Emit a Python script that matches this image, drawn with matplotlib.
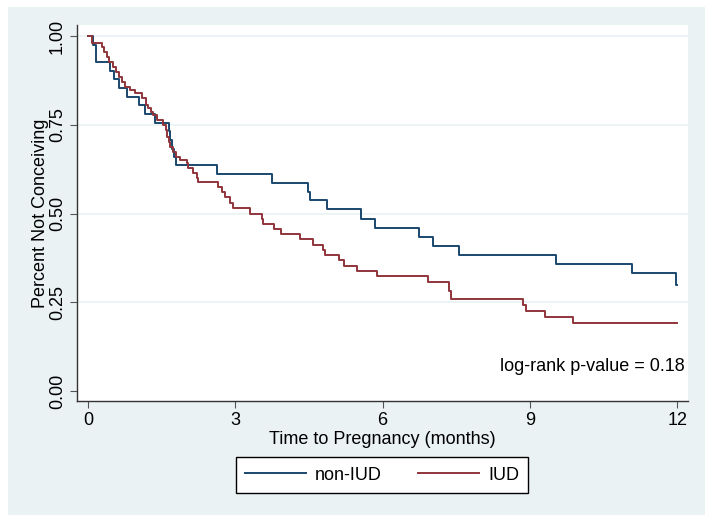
import matplotlib.pyplot as plt
from matplotlib.patches import Rectangle

# Kaplan-Meier step values (time in months, survival after the step)
non_iud_t = [0, 0.10, 0.16, 0.45, 0.53, 0.63, 0.79, 1.04, 1.17, 1.37, 1.65, 1.67, 1.71,
             1.75, 1.79, 2.63, 3.74, 4.49, 4.53, 4.86, 5.56, 5.85, 6.74, 7.02, 7.56,
             9.53, 11.07, 11.97, 12.0]
non_iud_s = [1.0, 0.976, 0.927, 0.902, 0.878, 0.854, 0.829, 0.805, 0.780, 0.756, 0.732,
             0.707, 0.683, 0.659, 0.636, 0.611, 0.587, 0.562, 0.537, 0.512, 0.486, 0.460,
             0.435, 0.409, 0.383, 0.358, 0.332, 0.299, 0.299]

iud_t = [0, 0.09, 0.28, 0.33, 0.38, 0.43, 0.50, 0.57, 0.64, 0.69, 0.75, 0.86, 0.96, 1.11,
         1.18, 1.23, 1.28, 1.33, 1.40, 1.53, 1.59, 1.60, 1.64, 1.68, 1.74, 1.79, 1.87,
         2.01, 2.04, 2.13, 2.21, 2.25, 2.655, 2.72, 2.79, 2.89, 2.95, 3.29, 3.54, 3.57,
         3.79, 3.93, 4.32, 4.59, 4.79, 4.83, 5.11, 5.22, 5.47, 5.88, 6.93, 7.36, 7.39,
         8.86, 8.92, 9.30, 9.87, 12.0]
iud_s = [1.0, 0.981, 0.970, 0.956, 0.942, 0.928, 0.914, 0.900, 0.885, 0.871, 0.857, 0.848,
         0.839, 0.824, 0.806, 0.796, 0.787, 0.777, 0.763, 0.749, 0.735, 0.716, 0.702,
         0.688, 0.674, 0.660, 0.651, 0.641, 0.627, 0.613, 0.599, 0.590, 0.576, 0.561,
         0.546, 0.531, 0.515, 0.500, 0.486, 0.470, 0.456, 0.441, 0.427, 0.412, 0.397,
         0.383, 0.369, 0.353, 0.338, 0.324, 0.307, 0.283, 0.259, 0.242, 0.225, 0.208,
         0.191, 0.191]

x_ticks = [0, 3, 6, 9, 12]
y_ticks = [0, 0.25, 0.5, 0.75, 1.0]
y_labels = ["0.00", "0.25", "0.50", "0.75", "1.00"]

plt.rcParams['font.family'] = ['Liberation Sans', 'DejaVu Sans']

W, H = 714, 523
fig = plt.figure(figsize=(W / 100, H / 100), dpi=100)
fig.patch.set_facecolor('white')

# light blue graph region behind the plot
fig.patches.append(Rectangle((8 / W, 1 - 515 / H), (705 - 8) / W, (515 - 7) / H,
                             transform=fig.transFigure, facecolor='#eaf2f3',
                             edgecolor='none', zorder=-10))

ax = fig.add_axes([77 / W, 1 - 401 / H, (688 - 77) / W, (401 - 25) / H])
ax.set_facecolor('white')

blue = '#1a476f'
red = '#90353b'
ax.step(non_iud_t, non_iud_s, where='post', color=blue, lw=1.4, label='non-IUD')
ax.step(iud_t, iud_s, where='post', color=red, lw=1.4, label='IUD')

ax.set_xlim(-0.224, 12.22)
ax.set_ylim(-0.028, 1.031)
ax.set_xticks(x_ticks)
ax.set_yticks(y_ticks)
ax.set_yticklabels(y_labels, rotation=90, va='center')
for y in y_ticks[1:]:
    ax.axhline(y, color='#eaf2f3', lw=1.2, zorder=0)

for s in ['top', 'right']:
    ax.spines[s].set_visible(False)
for s in ['left', 'bottom']:
    ax.spines[s].set_color('#333333')
    ax.spines[s].set_linewidth(1.0)
ax.tick_params(direction='out', length=5, width=0.8, color='#555555',
               labelsize=13, pad=3)

ax.set_xlabel('Time to Pregnancy (months)', fontsize=13, labelpad=1)
ax.set_ylabel('Percent Not Conceiving', fontsize=13, labelpad=0)

ax.text(12.15, 0.068, 'log-rank p-value = 0.18', ha='right', va='center', fontsize=13)

leg = fig.legend(loc='center', bbox_to_anchor=(382 / W, 1 - 475 / H), ncol=2,
                 fontsize=13, frameon=True, fancybox=False, edgecolor='black',
                 framealpha=1, handlelength=3.4, handletextpad=0.5,
                 columnspacing=2.0, borderpad=0.5)
leg.get_frame().set_linewidth(1.0)

fig.savefig('out.png', dpi=100)
